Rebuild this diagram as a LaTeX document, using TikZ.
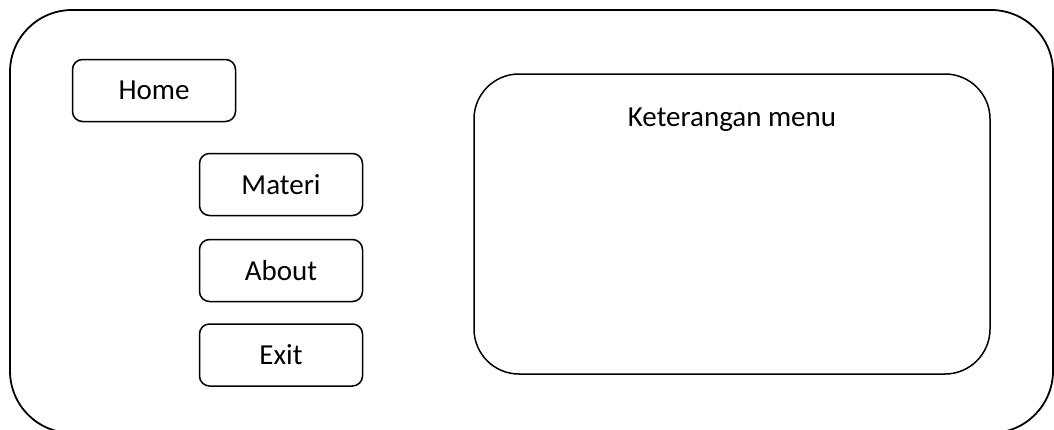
\documentclass[tikz,border=0pt]{standalone}
\usepackage{fontspec}
\setmainfont{Carlito}
\usetikzlibrary{positioning}

\begin{document}
\begin{tikzpicture}[x=1pt,y=-1pt,
        menubtn/.style={draw,line width=1.5pt,rounded corners=10pt,minimum width=163pt,minimum height=62pt,inner sep=0pt},
        every node/.style={font=\fontsize{29}{34}\selectfont}]
    \useasboundingbox (0,0) rectangle (1054,429);
    % frame of the screen
    \draw[line width=1.8pt,rounded corners=62pt] (10,10) rectangle (1053,433);

    % menu buttons
    \node[menubtn] (home) at (154,90.5) {Home};
    \node[menubtn] (materi) at (281,184.5) {Materi};
    \node[menubtn] (about) at (281,270.5) {About};
    \node[menubtn] (exit) at (281,355) {Exit};

    % description area
    \node[draw,line width=1.5pt,rounded corners=45pt,minimum width=516pt,minimum height=300pt,inner sep=0pt] (panel) at (732,224) {};
    \node[below=46pt of panel.north,anchor=center] (ket) {Keterangan menu};
\end{tikzpicture}
\end{document}
